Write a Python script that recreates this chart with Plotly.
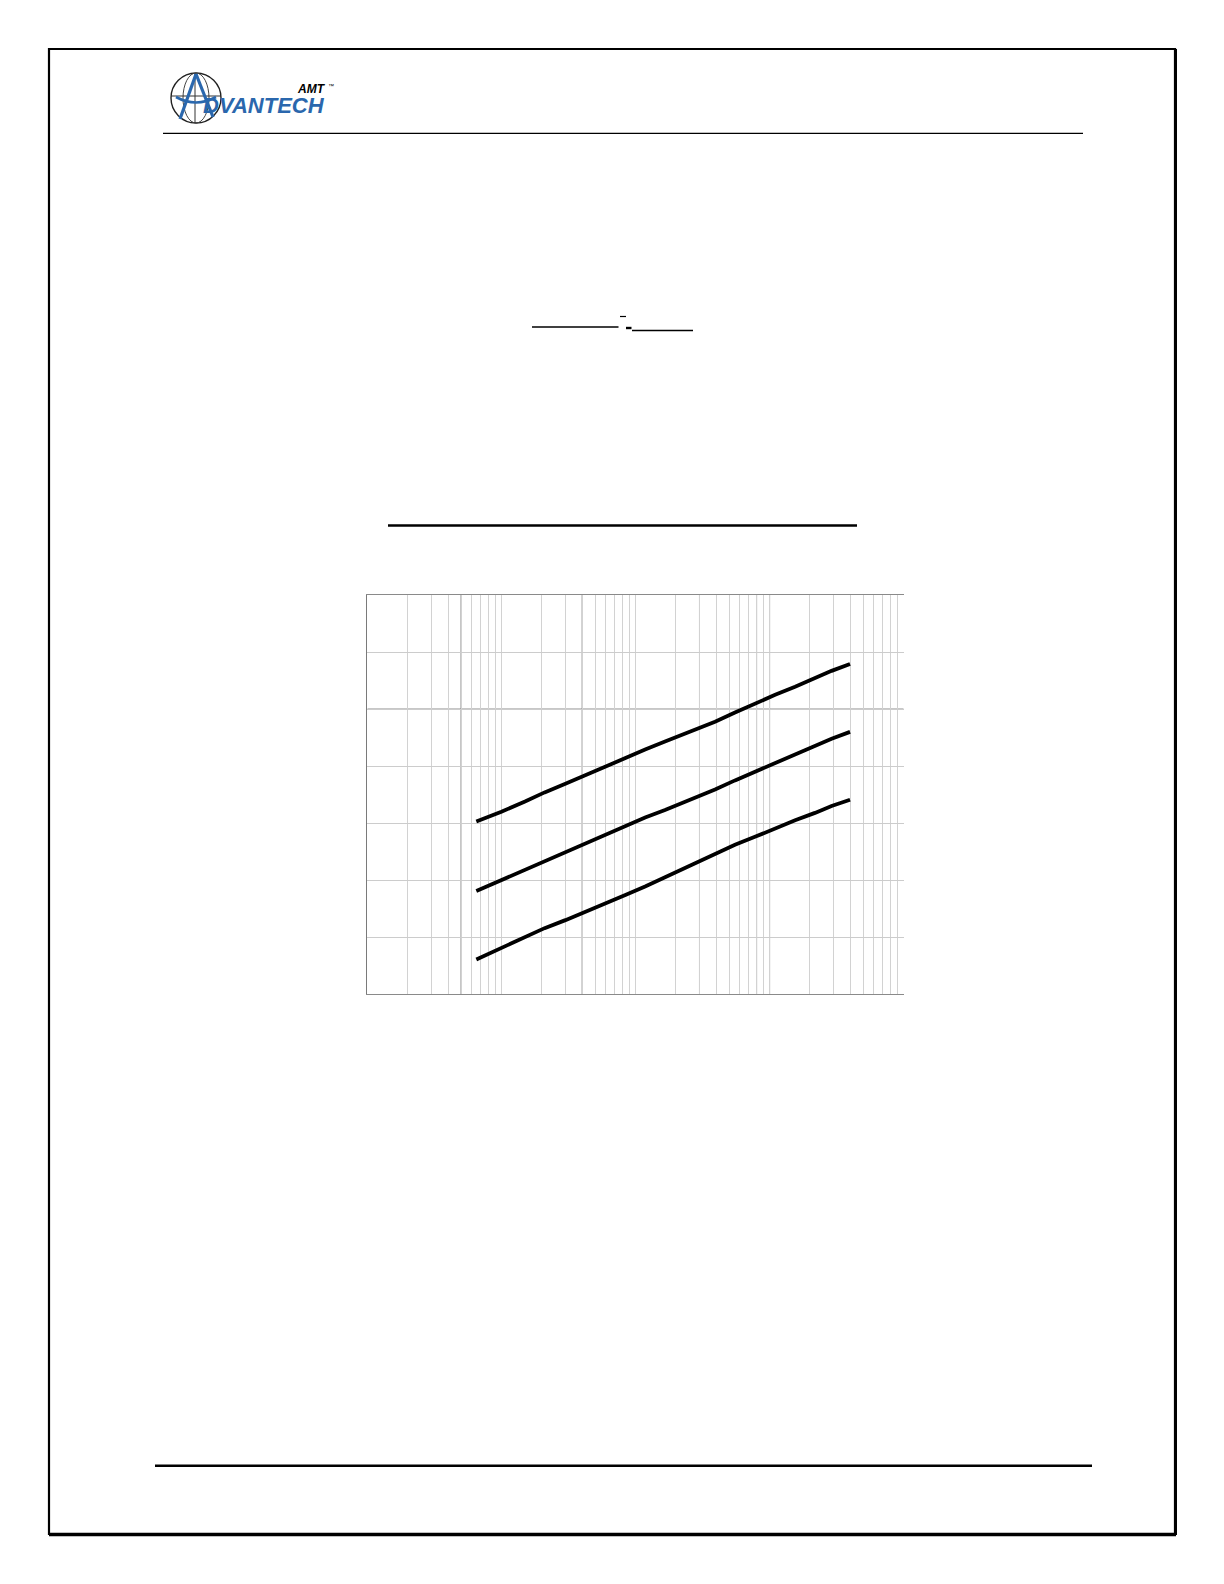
import plotly.graph_objects as go

W, H = 1224, 1584

# ---- data (x is log-scaled, y linear) ----
x_vals = [6.5, 10, 15, 21, 30, 42, 59, 84, 118, 166, 278, 392, 552, 778, 1100, 1550, 2180, 2900, 3980]
top_curve = [30.3, 32.0, 33.8, 35.4, 36.9, 38.4, 39.9, 41.4, 42.9, 44.3, 46.3, 47.8, 49.4, 51.0, 52.5, 53.9, 55.4, 56.7, 57.9]
mid_curve = [18.1, 20.0, 21.9, 23.4, 24.8, 26.3, 27.9, 29.5, 31.0, 32.3, 34.4, 35.9, 37.5, 39.0, 40.5, 42.1, 43.6, 44.8, 46.0]
bot_curve = [6.1, 8.1, 10.0, 11.6, 13.0, 14.4, 15.9, 17.4, 18.9, 20.5, 23.0, 24.6, 26.2, 27.6, 29.1, 30.5, 31.8, 33.0, 34.1]

x_range_log = [0, 4]
y_range = [0, 70]
y_step = 10

# darker (scanned) grid lines
dark_vlines = [5, 40, 300, 800, 1000]
dark_hlines = [50]


def px(x):
    return x / W


def py(y):
    return 1 - y / H


fig = go.Figure()
for ys in (top_curve, mid_curve, bot_curve):
    fig.add_trace(go.Scatter(x=x_vals, y=ys, mode="lines",
                             line=dict(color="black", width=3.8),
                             showlegend=False, hoverinfo="skip"))

shapes = []
for xv in dark_vlines:
    shapes.append(dict(type="line", xref="x", yref="y", x0=xv, x1=xv, y0=y_range[0], y1=y_range[1],
                       line=dict(color="#8a8a8a", width=1), layer="below"))
for yv in dark_hlines:
    shapes.append(dict(type="line", xref="x", yref="y", x0=1, x1=10 ** x_range_log[1], y0=yv, y1=yv,
                       line=dict(color="#7a7a7a", width=1), layer="below"))


def pline(x0, y0, x1, y1, w=1, c="black"):
    shapes.append(dict(type="line", xref="paper", yref="paper", x0=px(x0), y0=py(y0), x1=px(x1), y1=py(y1),
                       line=dict(color=c, width=w)))


# outer page border
shapes.append(dict(type="rect", xref="paper", yref="paper", x0=px(49), y0=py(1534), x1=px(1175), y1=py(49),
                   line=dict(color="black", width=2.2)))
pline(49, 1534.5, 1176, 1534.5, 3.5)
pline(1175.5, 49, 1175.5, 1535, 3)
# header / footer rules
pline(163, 133.3, 1083, 133.3, 1.2)
pline(155, 1465.7, 1092, 1465.7, 2.4)
# title underline fragments
pline(532, 327, 618.5, 327, 1.3)
pline(620, 316.5, 626, 316.5, 1.2)
pline(626, 328, 631.5, 328, 2.4)
pline(632, 330.5, 693, 330.5, 1.3)
# big underline
pline(388, 525.5, 857, 525.5, 2.6)

# logo
cx, cy, r = 196, 98, 25
shapes.append(dict(type="circle", xref="paper", yref="paper", x0=px(cx - r), x1=px(cx + r),
                   y0=py(cy + r), y1=py(cy - r), line=dict(color="#222", width=1.4)))
shapes.append(dict(type="circle", xref="paper", yref="paper", x0=px(cx - 13), x1=px(cx + 13),
                   y0=py(cy + 25), y1=py(cy - 25), line=dict(color="#444", width=1)))
pline(cx - r, 96, cx + r, 96, 1, "#333")
pline(cx - 1, 73, cx - 1, 123, 1, "#333")
blue = "#2a67ad"
shapes.append(dict(type="path", xref="paper", yref="paper",
                   path=f"M {px(196)},{py(74)} L {px(180)},{py(119)}",
                   line=dict(color=blue, width=3.2)))
shapes.append(dict(type="path", xref="paper", yref="paper",
                   path=f"M {px(196)},{py(74)} L {px(213)},{py(117)}",
                   line=dict(color=blue, width=3.2)))
shapes.append(dict(type="path", xref="paper", yref="paper",
                   path=f"M {px(176)},{py(97)} Q {px(196)},{py(108)} {px(216)},{py(97)}",
                   line=dict(color=blue, width=2.6)))

annotations = [
    dict(text="<b><i>DVANTECH</i></b>", x=px(201), y=py(105.5), xref="paper", yref="paper",
         xanchor="left", yanchor="middle", showarrow=False,
         font=dict(family="Liberation Sans", size=22, color=blue)),
    dict(text="<b><i>AMT</i></b>", x=px(295), y=py(88.5), xref="paper", yref="paper",
         xanchor="left", yanchor="middle", showarrow=False,
         font=dict(family="Liberation Sans", size=12, color="black")),
    dict(text="™", x=px(326), y=py(86), xref="paper", yref="paper",
         xanchor="left", yanchor="middle", showarrow=False,
         font=dict(family="Liberation Sans", size=6, color="black")),
]

fig.update_layout(
    width=W, height=H,
    margin=dict(l=0, r=0, t=0, b=0),
    paper_bgcolor="white", plot_bgcolor="white",
    shapes=shapes, annotations=annotations,
    showlegend=False,
    xaxis=dict(type="log", range=x_range_log, domain=[px(367.3), px(903.7)],
               dtick="D1", showgrid=True, gridcolor="#d2d2d2", gridwidth=1,
               showticklabels=False, ticks="", zeroline=False,
               showline=True, linecolor="#8a8a8a", linewidth=1, mirror=True),
    yaxis=dict(range=y_range, dtick=y_step, domain=[py(994.3), py(595)],
               showgrid=True, gridcolor="#cccccc", gridwidth=1,
               showticklabels=False, ticks="", zeroline=False,
               showline=True, linecolor="#7a7a7a", linewidth=1, mirror=False),
)

fig.write_html("out.html", config={"displayModeBar": False},
               post_script="document.body.style.margin='0';")
